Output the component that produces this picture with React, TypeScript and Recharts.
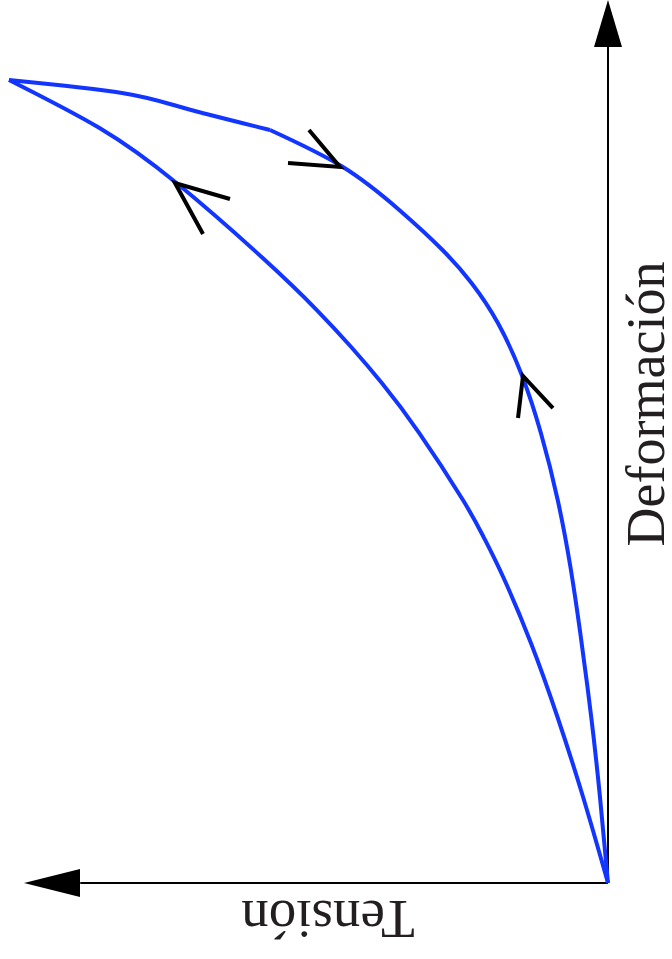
import { LineChart, Line, XAxis, YAxis, ReferenceLine, ReferenceDot } from 'recharts'

// Tension runs to the left, deformation runs up; both on a 0..100 scale
const loadTension = [0, 4.1, 8.31, 12.68, 17.24, 20.46, 23.86, 31.04, 37.2, 42.24, 47.89, 56.79, 70.97, 83.63, 98.52]
const loadStrain = [0, 9.74, 18.8, 27.18, 34.65, 39.18, 43.37, 50.96, 56.62, 60.7, 64.89, 70.78, 79.27, 85.5, 90.94]

// unloading branch: smooth lower part up to the bend, then the flatter top part
const unloadTension = [0, 1.32, 2.76, 4.56, 6.18, 8.27, 11.04, 14.18, 18.11, 22.45, 27.22, 34.33, 43.73, 55.59]
const unloadStrain = [0, 9.74, 18.8, 28.31, 35.79, 43.37, 50.96, 57.53, 63.42, 67.95, 71.69, 76.22, 81.14, 85.28]
const unloadTopTension = [55.59, 69.74, 79.93, 98.52]
const unloadTopStrain = [85.28, 87.77, 89.47, 90.94]

// direction marks: leg, tip, leg
const markLoad = [[62.17, 77.46], [71.22, 79.27], [66.61, 73.5]]
const markUnloadTop = [[52.63, 81.54], [44.08, 81.09], [49.18, 85.28]]
const markUnloadLow = [[14.8, 52.66], [13.98, 57.42], [9.05, 53.79]]

const strainAxisEnd = 94.8
const tensionAxisEnd = 86.8
const strainArrowTip = 100
const tensionArrowTip = 96.05

const xLabel = 'Tensión'
const yLabel = 'Deformación'

const BLUE = '#1236ff'
const FONT = '"Liberation Serif", "Times New Roman", serif'

const zip = (ts: number[], ds: number[]) => ts.map((t, i) => ({ t, d: ds[i] }))
const pts = (m: number[][]) => m.map(([t, d]) => ({ t, d }))

const upArrow = ({ cx, cy }: any) => (
  <polygon points={`${cx},${cy} ${cx - 14},${cy + 47} ${cx + 14},${cy + 47}`} fill="#000" />
)
const leftArrow = ({ cx, cy }: any) => (
  <polygon points={`${cx},${cy} ${cx + 56},${cy - 14} ${cx + 56},${cy + 14}`} fill="#000" />
)

const strainText = ({ cx, cy }: any) => (
  <text
    transform={`translate(${cx + 56}, ${cy}) rotate(-90)`}
    textAnchor="middle"
    fontFamily={FONT}
    fontSize={54}
    fill="#231f20"
  >
    {yLabel}
  </text>
)
const tensionText = ({ cx, cy }: any) => (
  <text
    transform={`translate(${cx}, ${cy + 18}) rotate(180)`}
    textAnchor="middle"
    fontFamily={FONT}
    fontSize={55}
    fill="#231f20"
  >
    {xLabel}
  </text>
)

const curves = [
  zip(loadTension, loadStrain),
  zip(unloadTension, unloadStrain),
  zip(unloadTopTension, unloadTopStrain),
]

export default function App() {
  return (
    <div style={{ position: 'absolute', left: 0, top: 0, width: 672, height: 959, background: '#fff' }}>
      <LineChart width={672} height={959} margin={{ top: 0, right: 64, bottom: 76, left: 0 }}>
        <XAxis dataKey="t" type="number" domain={[0, 100]} reversed hide />
        <YAxis dataKey="d" type="number" domain={[0, 100]} hide />

        <ReferenceLine
          segment={[{ x: 0, y: 0 }, { x: 0, y: strainAxisEnd }]}
          stroke="#000"
          strokeWidth={2}
          ifOverflow="visible"
        />
        <ReferenceLine
          segment={[{ x: 0, y: 0 }, { x: tensionAxisEnd, y: 0 }]}
          stroke="#000"
          strokeWidth={2}
          ifOverflow="visible"
        />
        <ReferenceDot x={0} y={strainArrowTip} ifOverflow="visible" shape={upArrow} />
        <ReferenceDot x={tensionArrowTip} y={0} ifOverflow="visible" shape={leftArrow} />
        <ReferenceDot x={0} y={54.25} ifOverflow="visible" shape={strainText} />
        <ReferenceDot x={46.05} y={0} ifOverflow="visible" shape={tensionText} />

        {curves.map((c, i) => (
          <Line
            key={`c${i}`}
            data={c}
            dataKey="d"
            type="natural"
            stroke={BLUE}
            strokeWidth={4}
            strokeLinejoin="round"
            dot={false}
            activeDot={false}
            isAnimationActive={false}
          />
        ))}
        {[markLoad, markUnloadTop, markUnloadLow].map((m, i) => (
          <Line
            key={`m${i}`}
            data={pts(m)}
            dataKey="d"
            type="linear"
            stroke="#000"
            strokeWidth={4}
            dot={false}
            activeDot={false}
            isAnimationActive={false}
          />
        ))}
      </LineChart>
    </div>
  )
}
